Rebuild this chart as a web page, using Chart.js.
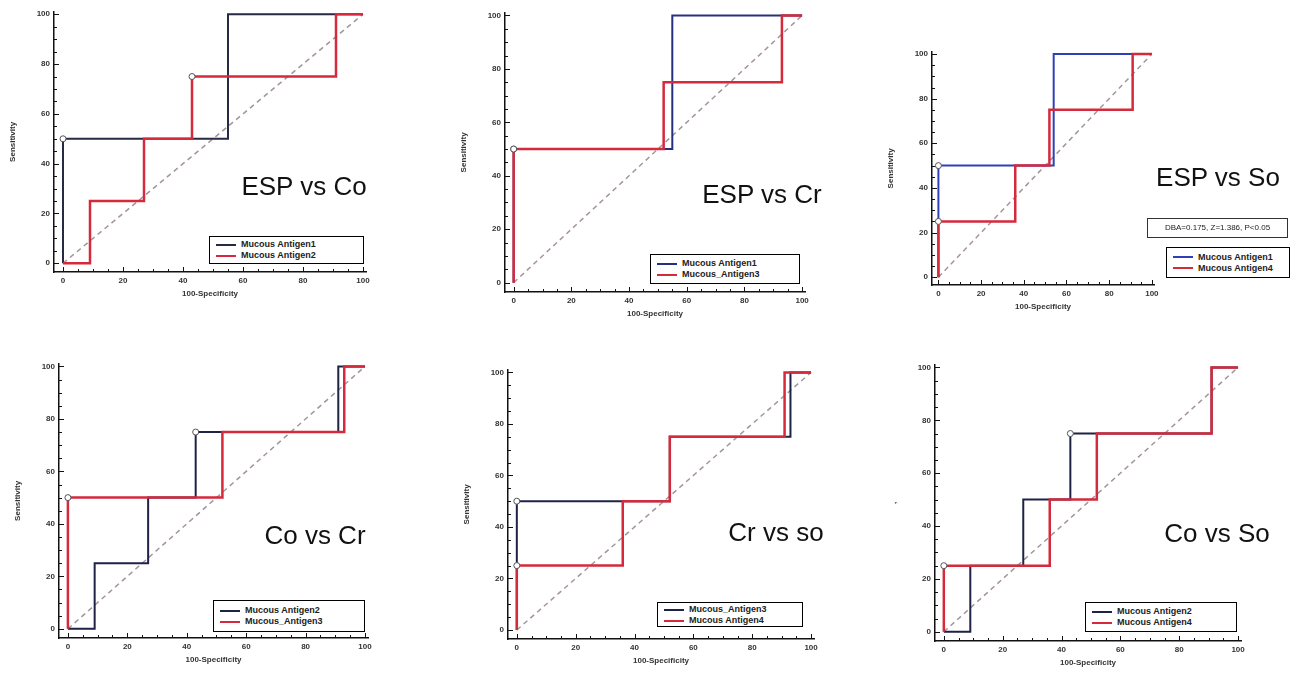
<!DOCTYPE html>
<html lang="en">
<head>
<meta charset="UTF-8">
<title>ROC curves</title>
<script src="https://cdn.jsdelivr.net/npm/chart.js"></script>
<style>
  body { margin: 0; background: #fff; width: 1309px; height: 675px; position: relative; overflow: hidden;
         font-family: "Liberation Sans", Arial, sans-serif; }
  canvas { position: absolute; }
  .ttl { position: absolute; font-size: 26px; color: #111; white-space: nowrap; transform: translate(-50%, -50%); }
  .lg { position: absolute; border: 1px solid #000; background: #fff; box-sizing: border-box;
        padding: 2px 6px; font-size: 9px; font-weight: bold; color: #222; line-height: 11px; }
  .lg span { display: inline-block; width: 20px; height: 2px; vertical-align: middle; margin-right: 5px; }
  .stat { position: absolute; border: 1px solid #333; box-sizing: border-box; font-size: 8px;
          color: #222; text-align: center; line-height: 18px; white-space: nowrap; }
</style>
</head>
<body>
<script>
// shared axis ticks
const tickValues = [0, 20, 40, 60, 80, 100];
const diagX = [0, 100];
const diagY = [0, 100];

// ESP vs Co
const espCoAg1X = [0, 0, 55, 100];
const espCoAg1Y = [0, 50, 100, 100];
const espCoAg2X = [0, 9, 27, 43, 91, 100];
const espCoAg2Y = [0, 25, 50, 75, 100, 100];
const espCoAg1Cut = [0, 50];
const espCoAg2Cut = [43, 75];

// ESP vs Cr
const espCrAg1X = [0, 0, 55, 100];
const espCrAg1Y = [0, 50, 100, 100];
const espCrAg3X = [0, 0, 52, 93, 100];
const espCrAg3Y = [0, 50, 75, 100, 100];
const espCrAg1Cut = [0, 50];
const espCrAg3Cut = [0, 50];

// ESP vs So
const espSoAg1X = [0, 0, 0, 54, 100];
const espSoAg1Y = [0, 25, 50, 100, 100];
const espSoAg4X = [0, 0, 36, 52, 91, 100];
const espSoAg4Y = [0, 25, 50, 75, 100, 100];
const espSoAg1Cut = [0, 50];
const espSoAg4Cut = [0, 25];

// Co vs Cr
const coCrAg2X = [0, 9, 27, 43, 91, 100];
const coCrAg2Y = [0, 25, 50, 75, 100, 100];
const coCrAg3X = [0, 0, 52, 93, 100];
const coCrAg3Y = [0, 50, 75, 100, 100];
const coCrAg2Cut = [43, 75];
const coCrAg3Cut = [0, 50];

// Cr vs so
const crSoAg3X = [0, 0, 52, 93, 100];
const crSoAg3Y = [0, 50, 75, 100, 100];
const crSoAg4X = [0, 0, 36, 52, 91, 100];
const crSoAg4Y = [0, 25, 50, 75, 100, 100];
const crSoAg3Cut = [0, 50];
const crSoAg4Cut = [0, 25];

// Co vs So
const coSoAg2X = [0, 9, 27, 43, 91, 100];
const coSoAg2Y = [0, 25, 50, 75, 100, 100];
const coSoAg4X = [0, 0, 36, 52, 91, 100];
const coSoAg4Y = [0, 25, 50, 75, 100, 100];
const coSoAg2Cut = [43, 75];
const coSoAg4Cut = [0, 25];

const RED = '#d42a3c';

// layout: pixel where value 0 / 100 falls on each axis
const panels = [
  { title: 'ESP vs Co', tx: 304, ty: 186, x0: 63, x100: 363, y0: 263, y100: 13, ytitle: 'Sensitivity',
    legend: [209, 236, 155, 28],
    series: [
      { label: 'Mucous Antigen1', x: espCoAg1X, y: espCoAg1Y, cut: espCoAg1Cut, color: '#262a45' },
      { label: 'Mucous Antigen2', x: espCoAg2X, y: espCoAg2Y, cut: espCoAg2Cut, color: RED }] },
  { title: 'ESP vs Cr', tx: 762, ty: 194, x0: 514, x100: 802, y0: 283, y100: 15, ytitle: 'Sensitivity',
    legend: [650, 254, 150, 30],
    series: [
      { label: 'Mucous Antigen1', x: espCrAg1X, y: espCrAg1Y, cut: espCrAg1Cut, color: '#27307e' },
      { label: 'Mucous_Antigen3', x: espCrAg3X, y: espCrAg3Y, cut: espCrAg3Cut, color: RED }] },
  { title: 'ESP vs So', tx: 1218, ty: 177, x0: 938, x100: 1151, y0: 277, y100: 53, ytitle: 'Sensitivity',
    legend: [1166, 247, 124, 31], stat: 'DBA=0.175, Z=1.386, P<0.05',
    series: [
      { label: 'Mucous Antigen1', x: espSoAg1X, y: espSoAg1Y, cut: espSoAg1Cut, color: '#2f3fb8' },
      { label: 'Mucous Antigen4', x: espSoAg4X, y: espSoAg4Y, cut: espSoAg4Cut, color: RED }] },
  { title: 'Co vs Cr', tx: 315, ty: 535, x0: 68, x100: 365, y0: 629, y100: 366, ytitle: 'Sensitivity',
    legend: [213, 600, 152, 32],
    series: [
      { label: 'Mucous Antigen2', x: coCrAg2X, y: coCrAg2Y, cut: coCrAg2Cut, color: '#1e2244' },
      { label: 'Mucous_Antigen3', x: coCrAg3X, y: coCrAg3Y, cut: coCrAg3Cut, color: RED }] },
  { title: 'Cr vs so', tx: 776, ty: 532, x0: 517, x100: 811, y0: 630, y100: 372, ytitle: 'Sensitivity',
    legend: [657, 602, 146, 25],
    series: [
      { label: 'Mucous_Antigen3', x: crSoAg3X, y: crSoAg3Y, cut: crSoAg3Cut, color: '#1e2244' },
      { label: 'Mucous Antigen4', x: crSoAg4X, y: crSoAg4Y, cut: crSoAg4Cut, color: RED }] },
  { title: 'Co vs So', tx: 1217, ty: 533, x0: 944, x100: 1238, y0: 632, y100: 367, ytitle: ',',
    legend: [1085, 602, 152, 30],
    series: [
      { label: 'Mucous Antigen2', x: coSoAg2X, y: coSoAg2Y, cut: coSoAg2Cut, color: '#1e2244' },
      { label: 'Mucous Antigen4', x: coSoAg4X, y: coSoAg4Y, cut: coSoAg4Cut, color: RED }] }
];

const X_MIN = -3, X_MAX = 101, Y_MIN = -3.5, Y_MAX = 101;
const Y_W = 46, X_H = 30, PT = 8, PR = 12;

// inward major/minor ticks like the original software
const inwardTicks = {
  id: 'inwardTicks',
  afterDraw(chart) {
    const ctx = chart.ctx, xs = chart.scales.x, ys = chart.scales.y, a = chart.chartArea;
    ctx.save();
    ctx.strokeStyle = '#111';
    ctx.lineWidth = 1;
    ctx.beginPath();
    for (let v = 0; v <= 100; v += 5) {
      const len = v % 20 === 0 ? 5 : 3;
      const px = Math.round(xs.getPixelForValue(v)) + 0.5;
      ctx.moveTo(px, a.bottom); ctx.lineTo(px, a.bottom - len);
      const py = Math.round(ys.getPixelForValue(v)) + 0.5;
      ctx.moveTo(a.left, py); ctx.lineTo(a.left + len, py);
    }
    ctx.stroke();
    ctx.restore();
  }
};

function pts(xs, ys) { return xs.map((x, i) => ({ x: x, y: ys[i] })); }

panels.forEach((p, idx) => {
  const ux = (p.x100 - p.x0) / 100, uy = (p.y0 - p.y100) / 100;
  const xl = p.x0 + X_MIN * ux, xr = p.x0 + X_MAX * ux;
  const yt = p.y0 - Y_MAX * uy, yb = p.y0 - Y_MIN * uy;
  const W = Math.round(Y_W + (xr - xl) + PR), H = Math.round(PT + (yb - yt) + X_H);

  const cv = document.createElement('canvas');
  cv.width = W; cv.height = H;
  cv.style.left = (xl - Y_W) + 'px';
  cv.style.top = (yt - PT) + 'px';
  document.body.appendChild(cv);

  // first dataset is drawn on top in Chart.js: markers, red, dark, diagonal
  const datasets = [];
  p.series.forEach(s => {
    datasets.push({
      data: [{ x: s.cut[0], y: s.cut[1] }], pointRadius: 3, pointBorderWidth: 1,
      pointBackgroundColor: '#fff', pointBorderColor: '#555', showLine: false
    });
  });
  p.series.slice().reverse().forEach(s => {
    const isRed = s.color === RED;
    datasets.push({
      label: s.label, data: pts(s.x, s.y), showLine: true, stepped: 'before',
      borderColor: s.color, borderWidth: isRed ? 2.5 : 2, pointRadius: 0
    });
  });
  datasets.push({
    data: pts(diagX, diagY), showLine: true, borderColor: '#a4949f', borderWidth: 1.5,
    borderDash: [5, 4], pointRadius: 0
  });

  const tickFont = { family: 'Liberation Sans', size: 8, weight: 'bold' };
  new Chart(cv.getContext('2d'), {
    type: 'scatter',
    data: { datasets: datasets },
    plugins: [inwardTicks],
    options: {
      responsive: false, animation: false,
      layout: { padding: { top: PT, right: PR, left: 0, bottom: 0 } },
      plugins: { legend: { display: false }, tooltip: { enabled: false } },
      scales: {
        x: {
          type: 'linear', min: X_MIN, max: X_MAX,
          afterBuildTicks: sc => { sc.ticks = tickValues.map(v => ({ value: v })); },
          afterFit: sc => { sc.height = X_H; },
          grid: { display: false, drawTicks: false },
          border: { display: true, color: '#111', width: 1.5 },
          ticks: { font: tickFont, color: '#333', padding: 4, maxRotation: 0 },
          title: { display: true, text: '100-Specificity', font: tickFont, color: '#333', padding: { top: 0, bottom: 3 } }
        },
        y: {
          type: 'linear', min: Y_MIN, max: Y_MAX,
          afterBuildTicks: sc => { sc.ticks = tickValues.map(v => ({ value: v })); },
          afterFit: sc => { sc.width = Y_W; },
          grid: { display: false, drawTicks: false },
          border: { display: true, color: '#111', width: 1.5 },
          ticks: { font: tickFont, color: '#333', padding: 4 },
          title: { display: true, text: p.ytitle, font: tickFont, color: '#333', padding: { top: 0, bottom: 0 } }
        }
      }
    }
  });

  const t = document.createElement('div');
  t.className = 'ttl';
  t.style.left = p.tx + 'px'; t.style.top = p.ty + 'px';
  t.textContent = p.title;
  document.body.appendChild(t);

  const lg = document.createElement('div');
  lg.className = 'lg';
  lg.style.left = p.legend[0] + 'px'; lg.style.top = p.legend[1] + 'px';
  lg.style.width = p.legend[2] + 'px'; lg.style.height = p.legend[3] + 'px';
  lg.style.paddingTop = Math.max(1, (p.legend[3] - 24) / 2) + 'px';
  lg.innerHTML = p.series.map(s => '<div><span style="background:' + s.color + '"></span>' + s.label + '</div>').join('');
  document.body.appendChild(lg);

  if (p.stat) {
    const st = document.createElement('div');
    st.className = 'stat';
    st.style.left = '1147px'; st.style.top = '218px'; st.style.width = '141px'; st.style.height = '20px';
    st.textContent = p.stat;
    document.body.appendChild(st);
  }
});
</script>
</body>
</html>
